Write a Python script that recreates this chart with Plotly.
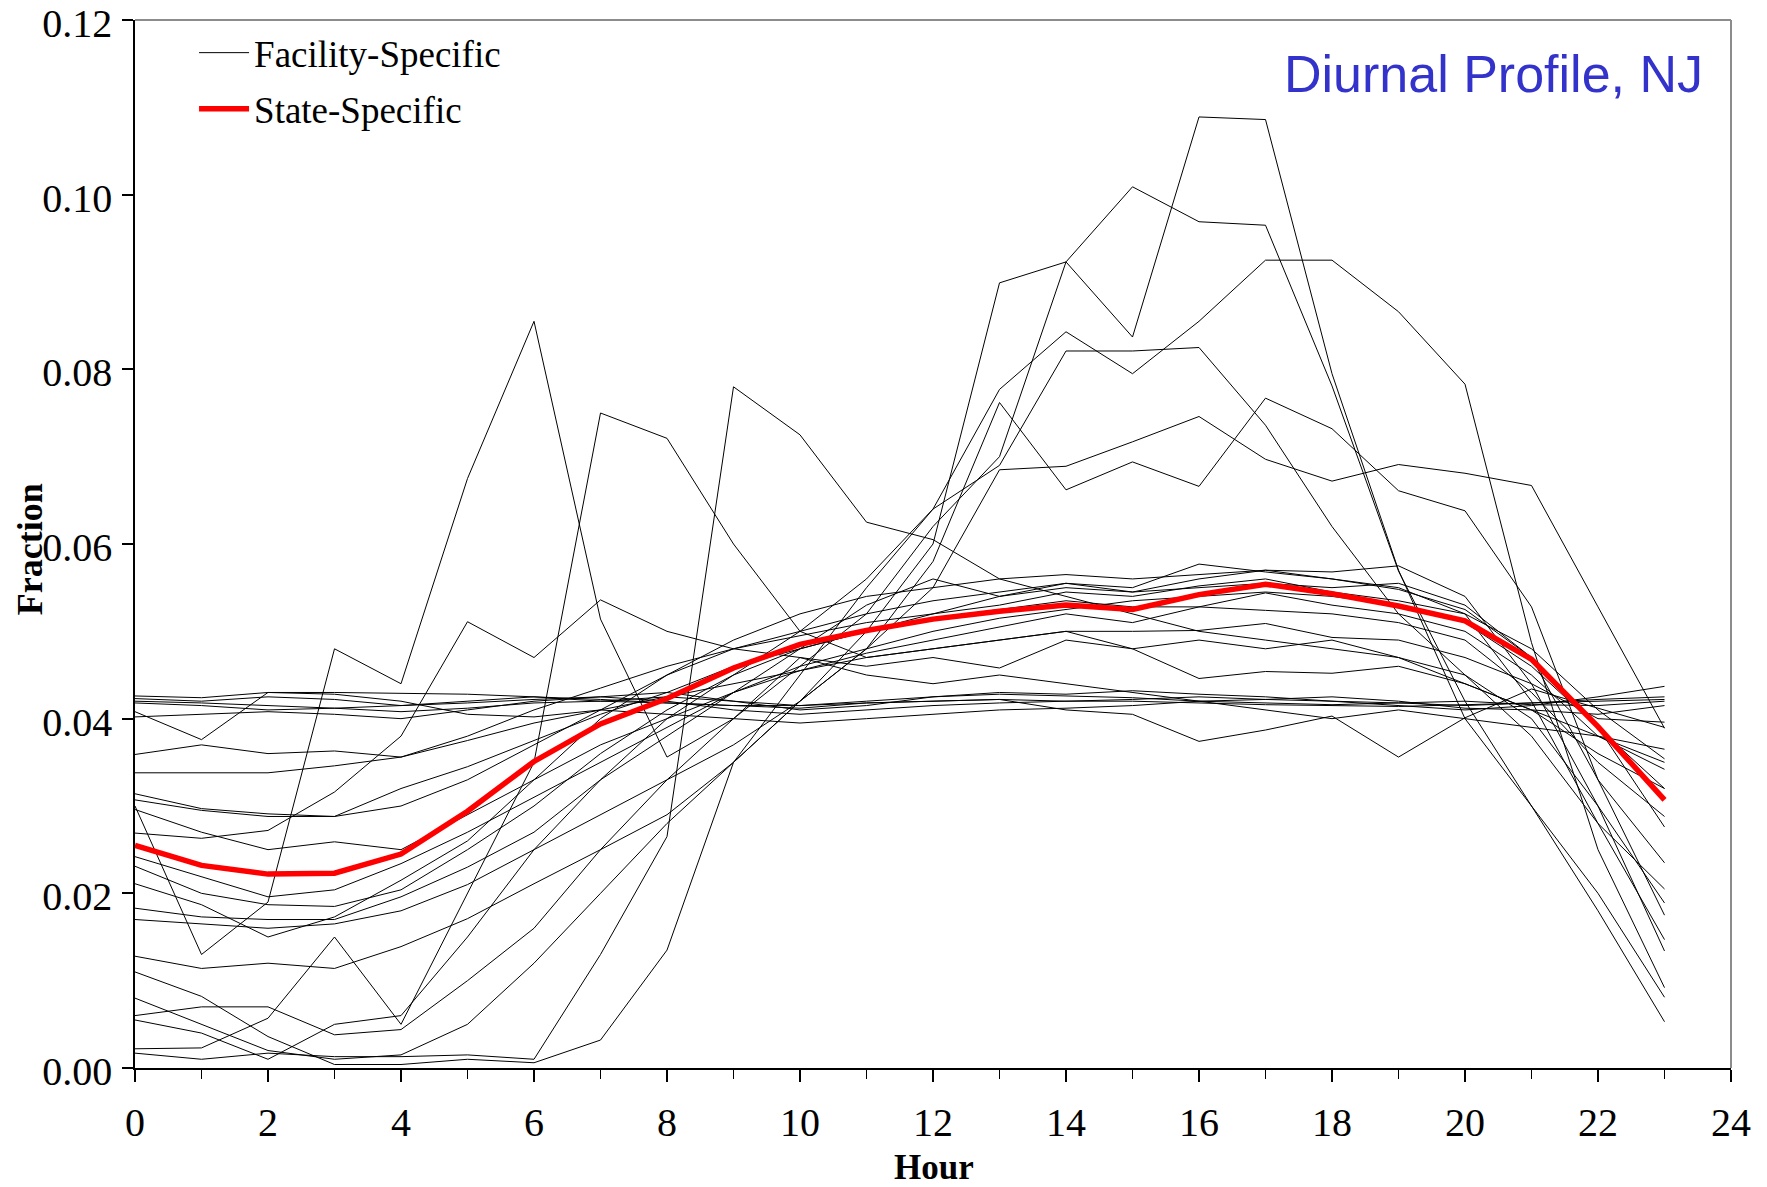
import plotly.graph_objects as go

hours = list(range(24))

state_specific = [0.0255, 0.0232, 0.0222, 0.0223, 0.0245, 0.0294, 0.0351, 0.0394,
                  0.0423, 0.0458, 0.0485, 0.0501, 0.0514, 0.0523, 0.0530, 0.0525,
                  0.0542, 0.0554, 0.0543, 0.0529, 0.0512, 0.0468, 0.0391, 0.0307]

fac_01 = [0.0426, 0.0424, 0.0430, 0.0430, 0.0429, 0.0428, 0.0425, 0.0420, 0.0418, 0.0415, 0.0415, 0.0418,
          0.0420, 0.0422, 0.0420, 0.0420, 0.0418, 0.0416, 0.0415, 0.0414, 0.0416, 0.0418, 0.0420, 0.0422]
fac_02 = [0.0423, 0.0420, 0.0425, 0.0422, 0.0415, 0.0418, 0.0422, 0.0425, 0.0420, 0.0410, 0.0405, 0.0410,
          0.0415, 0.0418, 0.0420, 0.0422, 0.0425, 0.0422, 0.0420, 0.0418, 0.0415, 0.0418, 0.0422, 0.0425]
fac_03 = [0.0418, 0.0415, 0.0410, 0.0412, 0.0408, 0.0412, 0.0418, 0.0420, 0.0425, 0.0420, 0.0415, 0.0420,
          0.0425, 0.0428, 0.0426, 0.0424, 0.0420, 0.0418, 0.0416, 0.0418, 0.0420, 0.0416, 0.0415, 0.0420]
fac_04 = [0.0408, 0.0376, 0.0430, 0.0428, 0.0420, 0.0405, 0.0402, 0.0410, 0.0405, 0.0400, 0.0395, 0.0400,
          0.0405, 0.0410, 0.0412, 0.0415, 0.0420, 0.0422, 0.0425, 0.0420, 0.0412, 0.0410, 0.0405, 0.0415]
fac_05 = [0.0402, 0.0405, 0.0408, 0.0405, 0.0400, 0.0410, 0.0420, 0.0425, 0.0430, 0.0420, 0.0410, 0.0415,
          0.0425, 0.0430, 0.0428, 0.0432, 0.0428, 0.0425, 0.0420, 0.0415, 0.0410, 0.0415, 0.0425, 0.0437]
fac_06 = [0.0420, 0.0418, 0.0415, 0.0412, 0.0415, 0.0420, 0.0425, 0.0422, 0.0418, 0.0415, 0.0412, 0.0418,
          0.0420, 0.0422, 0.0410, 0.0405, 0.0374, 0.0387, 0.0403, 0.0356, 0.0401, 0.0434, 0.0412, 0.0390]
fac_07 = [0.0359, 0.0370, 0.0360, 0.0363, 0.0356, 0.0375, 0.0395, 0.0410, 0.0425, 0.0440, 0.0455, 0.0470,
          0.0480, 0.0490, 0.0500, 0.0500, 0.0501, 0.0509, 0.0493, 0.0490, 0.0470, 0.0440, 0.0400, 0.0396]
fac_08 = [0.0338, 0.0338, 0.0338, 0.0346, 0.0356, 0.0380, 0.0410, 0.0435, 0.0460, 0.0480, 0.0495, 0.0510,
          0.0520, 0.0530, 0.0545, 0.0540, 0.0552, 0.0560, 0.0545, 0.0535, 0.0520, 0.0480, 0.0410, 0.0354]
fac_09 = [0.0314, 0.0297, 0.0291, 0.0288, 0.0320, 0.0345, 0.0375, 0.0405, 0.0430, 0.0460, 0.0480, 0.0500,
          0.0515, 0.0525, 0.0535, 0.0528, 0.0528, 0.0544, 0.0530, 0.0520, 0.0500, 0.0450, 0.0380, 0.0342]
fac_10 = [0.0307, 0.0295, 0.0288, 0.0288, 0.0300, 0.0330, 0.0370, 0.0410, 0.0450, 0.0480, 0.0500, 0.0520,
          0.0535, 0.0545, 0.0555, 0.0550, 0.0577, 0.0568, 0.0560, 0.0548, 0.0525, 0.0470, 0.0390, 0.0320]
fac_11 = [0.0296, 0.0270, 0.0250, 0.0259, 0.0250, 0.0290, 0.0330, 0.0370, 0.0400, 0.0430, 0.0455, 0.0475,
          0.0490, 0.0505, 0.0520, 0.0510, 0.0528, 0.0524, 0.0520, 0.0510, 0.0490, 0.0430, 0.0350, 0.0288]
fac_12 = [0.0269, 0.0263, 0.0272, 0.0316, 0.0380, 0.0511, 0.0470, 0.0536, 0.0500, 0.0480, 0.0470, 0.0460,
          0.0470, 0.0458, 0.0490, 0.0480, 0.0446, 0.0454, 0.0452, 0.0460, 0.0440, 0.0410, 0.0380, 0.0365]
fac_13 = [0.0242, 0.0219, 0.0196, 0.0204, 0.0234, 0.0270, 0.0310, 0.0350, 0.0390, 0.0430, 0.0460, 0.0480,
          0.0500, 0.0515, 0.0525, 0.0535, 0.0540, 0.0545, 0.0540, 0.0530, 0.0510, 0.0460, 0.0390, 0.0276]
fac_14 = [0.0231, 0.0200, 0.0187, 0.0185, 0.0204, 0.0250, 0.0300, 0.0360, 0.0410, 0.0450, 0.0480, 0.0500,
          0.0520, 0.0540, 0.0550, 0.0545, 0.0550, 0.0555, 0.0550, 0.0555, 0.0530, 0.0470, 0.0330, 0.0235]
fac_15 = [0.0211, 0.0187, 0.0150, 0.0173, 0.0215, 0.0260, 0.0330, 0.0400, 0.0450, 0.0490, 0.0520, 0.0540,
          0.0550, 0.0560, 0.0565, 0.0560, 0.0565, 0.0570, 0.0560, 0.0550, 0.0520, 0.0420, 0.0280, 0.0205]
fac_16 = [0.0183, 0.0173, 0.0170, 0.0170, 0.0196, 0.0230, 0.0270, 0.0330, 0.0380, 0.0430, 0.0480, 0.0530,
          0.0560, 0.0540, 0.0555, 0.0545, 0.0560, 0.0570, 0.0568, 0.0575, 0.0540, 0.0440, 0.0300, 0.0189]
fac_17 = [0.0170, 0.0165, 0.0160, 0.0165, 0.0180, 0.0210, 0.0250, 0.0290, 0.0330, 0.0370, 0.0420, 0.0480,
          0.0580, 0.0762, 0.0662, 0.0694, 0.0666, 0.0767, 0.0732, 0.0661, 0.0638, 0.0528, 0.0330, 0.0175]
fac_18 = [0.0128, 0.0114, 0.0120, 0.0114, 0.0139, 0.0171, 0.0211, 0.0250, 0.0290, 0.0350, 0.0420, 0.0480,
          0.0550, 0.0685, 0.0689, 0.0717, 0.0746, 0.0697, 0.0672, 0.0691, 0.0681, 0.0667, 0.0528, 0.0389]
fac_19 = [0.0110, 0.0082, 0.0036, 0.0004, 0.0004, 0.0010, 0.0006, 0.0032, 0.0135, 0.0350, 0.0450, 0.0550,
          0.0640, 0.0777, 0.0843, 0.0795, 0.0855, 0.0925, 0.0925, 0.0866, 0.0783, 0.0487, 0.0250, 0.0092]
fac_20 = [0.0080, 0.0050, 0.0020, 0.0010, 0.0015, 0.0050, 0.0120, 0.0200, 0.0280, 0.0350, 0.0420, 0.0500,
          0.0600, 0.0899, 0.0923, 0.0837, 0.1089, 0.1086, 0.0795, 0.0570, 0.0400, 0.0300, 0.0200, 0.0081]
fac_21 = [0.0060, 0.0070, 0.0070, 0.0038, 0.0044, 0.0100, 0.0160, 0.0250, 0.0330, 0.0400, 0.0460, 0.0520,
          0.0620, 0.0700, 0.0923, 0.1009, 0.0969, 0.0965, 0.0781, 0.0569, 0.0420, 0.0300, 0.0180, 0.0053]
fac_22 = [0.0055, 0.0040, 0.0010, 0.0050, 0.0060, 0.0150, 0.0250, 0.0330, 0.0400, 0.0450, 0.0500, 0.0560,
          0.0640, 0.0690, 0.0821, 0.0821, 0.0825, 0.0736, 0.0620, 0.0520, 0.0450, 0.0380, 0.0280, 0.0147]
fac_23 = [0.0022, 0.0023, 0.0057, 0.0150, 0.0050, 0.0200, 0.0350, 0.0750, 0.0721, 0.0600, 0.0500, 0.0470,
          0.0480, 0.0490, 0.0500, 0.0480, 0.0490, 0.0480, 0.0490, 0.0470, 0.0440, 0.0410, 0.0360, 0.0320]
fac_24 = [0.0017, 0.0010, 0.0017, 0.0013, 0.0013, 0.0015, 0.0010, 0.0130, 0.0265, 0.0780, 0.0725, 0.0625,
          0.0605, 0.0560, 0.0540, 0.0520, 0.0500, 0.0490, 0.0480, 0.0470, 0.0450, 0.0400, 0.0300, 0.0134]
fac_25 = [0.0300, 0.0130, 0.0190, 0.0480, 0.0440, 0.0675, 0.0855, 0.0514, 0.0356, 0.0400, 0.0470, 0.0450,
          0.0440, 0.0450, 0.0440, 0.0430, 0.0420, 0.0410, 0.0400, 0.0410, 0.0400, 0.0390, 0.0380, 0.0350]

facility_series = [fac_01, fac_02, fac_03, fac_04, fac_05, fac_06, fac_07, fac_08, fac_09, fac_10,
                   fac_11, fac_12, fac_13, fac_14, fac_15, fac_16, fac_17, fac_18, fac_19, fac_20,
                   fac_21, fac_22, fac_23, fac_24, fac_25]

x_tick_vals = list(range(0, 25, 2))
y_tick_vals = [0.00, 0.02, 0.04, 0.06, 0.08, 0.10, 0.12]
y_tick_text = ["0.00", "0.02", "0.04", "0.06", "0.08", "0.10", "0.12"]

SERIF = "Liberation Serif, Times New Roman, serif"

fig = go.Figure()
for i, s in enumerate(facility_series):
    fig.add_trace(go.Scatter(
        x=hours, y=s, mode="lines",
        line=dict(color="black", width=1),
        name="Facility-Specific", legendgroup="fac",
        showlegend=(i == 0), hoverinfo="skip",
    ))
fig.add_trace(go.Scatter(
    x=hours, y=state_specific, mode="lines",
    line=dict(color="#ff0000", width=5.5),
    name="State-Specific", legendgroup="state", showlegend=True,
))

fig.update_layout(
    width=1767, height=1187,
    paper_bgcolor="white", plot_bgcolor="white",
    margin=dict(l=135, r=36, t=20, b=119, autoexpand=False),
    font=dict(family=SERIF, color="black", size=40),
    legend=dict(
        x=0.037, y=0.998, xanchor="left", yanchor="top",
        bgcolor="rgba(0,0,0,0)", font=dict(family=SERIF, size=37, color="black"),
        itemwidth=50, tracegroupgap=5,
    ),
    xaxis=dict(
        range=[0, 24], tickvals=x_tick_vals, ticks="outside", ticklen=12, tickwidth=1.5,
        tickcolor="black", showline=True, linecolor="black", linewidth=2,
        showgrid=False, zeroline=False, ticklabelstandoff=6, automargin=False,
        ticklabeloverflow="allow",
        tickfont=dict(family=SERIF, size=40, color="black"),
        minor=dict(dtick=1, tick0=0, ticks="outside", ticklen=9, tickwidth=1.2, tickcolor="black", showgrid=False),
    ),
    yaxis=dict(
        range=[0, 0.12], tickvals=y_tick_vals, ticktext=y_tick_text, ticks="outside", ticklen=11,
        tickwidth=1.5, tickcolor="black", showline=True, linecolor="black", linewidth=1.5,
        showgrid=False, zeroline=False, ticklabelstandoff=2, ticklabelshift=3, automargin=False,
        ticklabeloverflow="allow",
        tickfont=dict(family=SERIF, size=40, color="black"),
    ),
    shapes=[
        dict(type="line", xref="paper", yref="paper", x0=0, x1=1, y0=1, y1=1,
             line=dict(color="#8c8c8c", width=2)),
        dict(type="line", xref="paper", yref="paper", x0=1, x1=1, y0=0, y1=1,
             line=dict(color="#8c8c8c", width=2)),
    ],
    annotations=[
        dict(text="Diurnal Profile, NJ", xref="paper", yref="paper", x=0.9835, y=0.9485,
             xanchor="right", yanchor="middle", showarrow=False,
             font=dict(family="Liberation Sans, Arial, sans-serif", size=52, color="#3333cc")),
        dict(text="<b>Hour</b>", xref="paper", yref="paper", x=0.5006, y=-0.0945,
             xanchor="center", yanchor="middle", showarrow=False,
             font=dict(family=SERIF, size=35, color="black")),
        dict(text="<b>Fraction</b>", xref="paper", yref="paper", x=-0.0658, y=0.495,
             xanchor="center", yanchor="middle", showarrow=False, textangle=-90,
             font=dict(family=SERIF, size=36, color="black")),
    ],
)

fig.write_html("out.html", config={"displayModeBar": False},
               post_script="document.body.style.margin='0px';")
